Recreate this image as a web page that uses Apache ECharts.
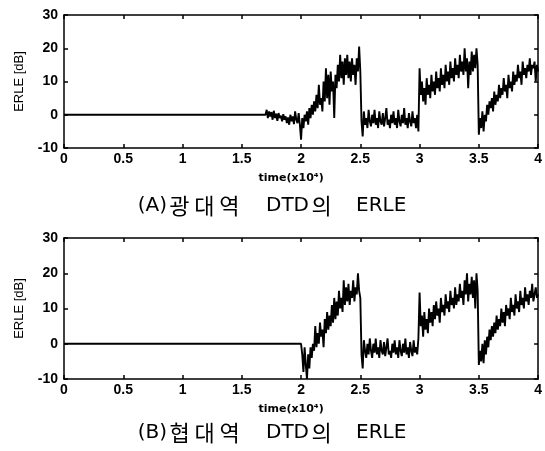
<!DOCTYPE html>
<html><head><meta charset="utf-8">
<script src="https://cdn.jsdelivr.net/npm/echarts@6/dist/echarts.min.js"></script>
<style>html,body{margin:0;padding:0;background:#fff}#c{width:545px;height:451px}</style>
</head><body><div id="c"></div>
<script>
// Tick labels
var xTicks = [0, 0.5, 1, 1.5, 2, 2.5, 3, 3.5, 4];
var yTicks = [-10, 0, 10, 20, 30];
var xName = 'time(x10\u2074)';
var yName = 'ERLE [dB]';
var captionA = '{l|(A)}{h|광}{h|대}{h|역}{s| }{l|DTD}{h|의}{t| }{l|ERLE}';
var captionB = '{l|(B)}{h|협}{h|대}{h|역}{s| }{l|DTD}{h|의}{t| }{l|ERLE}';
var step = 0.01;

// Chart A: flat part then sampled values from t=1.70
var flatA = [[0, 0], [1.70, 0]];
var startA = 1.70;
var valuesA = [
  0, 1.5, -1, 1, -0.5, 0.8, -1.5, 1.2, -1, 0.3,
  -1.8, 0.5, -1, -0.3, -2, 0.2, -1.5, -0.5, -2.5, -0.8,
  -3, 0, -2, -0.5, -2.8, 1, -1.5, -2.5, 0.5, -3,
  // 2.00
  -7.5, -1, -4, 0, -2, 1, -3, 2, -1, 3,
  0, 4, 1, 6, 2, 9, 3, 5, 1, 10,
  4, 14, 5, 12, 3, 13, 7, 10, -1, 12,
  8, 15, 10, 18, 11, 16, 9, 17, 12, 18,
  11, 16, 10, 17, 12, 15, 9, 17, 13, 20.5,
  // 2.50
  13, -2, -6.5, 1, -3, -1, -4, 1.5, -2, -3.5,
  0, -2.5, 1.5, -3, -1, -4, 1, -2, -3, 0.5,
  -3.5, -1, 2, -3, -1.5, -4, 0, -2.5, 1, -3,
  -1, -4, 1.5, -2, -3.5, 0, -2.5, 2, -3, -1,
  -4, 0.5, -2, -3.5, 1, -2.5, -1, -4, 0, -5,
  // 3.00
  14, 6, 10, 4, 8, 3, 11, 6, 9, 5,
  12, 7, 10, 6, 13, 8, 11, 7, 14, 9,
  12, 8, 15, 10, 13, 9, 16, 11, 14, 10,
  17, 12, 15, 11, 18, 13, 16, 12, 20, 13,
  17, 8, 16, 12, 19, 13, 18, 14, 20, 15,
  // 3.50
  -6, -1, -4, 1, -5, 0, -2, 3, 0, 4,
  2, 5, 1, 7, 3, 6, 4, 9, 5, 8,
  6, 11, 7, 9, 5, 12, 8, 10, 7, 13,
  9, 12, 10, 15, 11, 13, 9, 16, 12, 14,
  11, 15, 13, 17, 12, 15, 14, 16, 10, 15,
  13
];

// Chart B: flat part then sampled values from t=2.00
var flatB = [[0, 0], [2.00, 0]];
var startB = 2.00;
var valuesB = [
  0, -3, -8, -1, -6, -10, -3, -7, -1, -4,
  0, -2, 5, -1, 3, 0, 6, 2, 4, -1,
  7, 3, 9, 4, 8, 5, 11, 6, 13, 7,
  12, 8, 15, 10, 13, 9, 18, 11, 16, 12,
  17, 11, 15, 13, 18, 12, 16, 14, 20, 15,
  // 2.50
  13, -3, -7, 1, -2, -4, 0, -3, 1.5, -2,
  -4, 0, -2.5, 1.5, -3, -1, -4, 1, -2, -3,
  0.5, -3.5, -1, 1.5, -3, -2, -4, 0, -2.5, 1,
  -3, -1, -4, 1, -2, -3.5, 0, -2.5, 1.5, -3,
  -1, -4, 0.5, -2, -3.5, 1, -2.5, -1, -3, 1.5,
  // 3.00
  14.5, 5, 8, 2, 9, 4, 7, 3, 10, 6,
  9, 5, 11, 7, 12, 8, 10, 6, 13, 9,
  11, 8, 14, 10, 12, 9, 15, 11, 13, 10,
  16, 11, 14, 12, 17, 13, 15, 11, 18, 14,
  20, 12, 17, 14, 19, 13, 18, 10, 20, 15,
  // 3.50
  -6, -2, -5, 0, -5.5, 1, -3, 2, -1, 4,
  1, 5, 2, 6, 3, 8, 4, 7, 5, 10,
  6, 9, 5, 11, 8, 10, 7, 13, 9, 11,
  8, 14, 10, 12, 9, 15, 11, 13, 10, 16,
  12, 14, 11, 15, 13, 17, 12, 14, 16, 13,
  14
];

function pairs(flat, start, vals) {
  var out = flat.slice();
  for (var i = 0; i < vals.length; i++) {
    out.push([+(start + i * step).toFixed(2), vals[i]]);
  }
  return out;
}

var chart = echarts.init(document.getElementById('c'), null, {renderer: 'canvas'});
var lab = {color: '#000', fontFamily: 'Liberation Sans, Arial', fontWeight: 'bold', fontSize: 14};
var axLine = {show: true, onZero: false, lineStyle: {color: '#000', width: 1.5}};
var tick = {show: true, inside: true, length: 4, lineStyle: {color: '#000', width: 1.5}};

function xAx(gi, pos, showLab) {
  return {
    type: 'value', gridIndex: gi, position: pos, min: 0, max: 4, interval: 0.5,
    axisLine: axLine, axisTick: tick, splitLine: {show: false},
    axisLabel: showLab ? Object.assign({margin: 4, formatter: function (v) { return String(v); }}, lab) : {show: false},
    name: showLab ? xName : '', nameLocation: 'middle', nameGap: 25,
    nameTextStyle: {color: '#000', fontFamily: 'DejaVu Sans', fontWeight: 'bold', fontSize: 11, padding: [0, 20, 0, 0]}
  };
}
function yAx(gi, pos, showLab) {
  return {
    type: 'value', gridIndex: gi, position: pos, min: -10, max: 30, interval: 10,
    axisLine: axLine, axisTick: tick, splitLine: {show: false},
    axisLabel: showLab ? Object.assign({margin: 6}, lab) : {show: false},
    name: showLab ? yName : '', nameLocation: 'middle', nameGap: 38, nameRotate: 90,
    nameTextStyle: {color: '#000', fontFamily: 'Liberation Sans, Arial', fontWeight: 'normal', fontSize: 13}
  };
}

var capRich = {
  l: {fontFamily: 'DejaVu Sans', fontSize: 20, color: '#000', lineHeight: 24},
  h: {fontFamily: 'Noto Sans CJK KR', fontSize: 22, color: '#000', width: 25, align: 'center', lineHeight: 24},
  s: {fontFamily: 'DejaVu Sans', fontSize: 20, width: 24, lineHeight: 24},
  t: {fontFamily: 'DejaVu Sans', fontSize: 20, width: 22, lineHeight: 24}
};

chart.setOption({
  animation: false,
  backgroundColor: '#fff',
  title: [
    {text: captionA, left: 272, top: 194, textAlign: 'center', padding: 0,
     textStyle: {color: '#000', fontWeight: 'normal', fontSize: 20, rich: capRich}},
    {text: captionB, left: 272, top: 421, textAlign: 'center', padding: 0,
     textStyle: {color: '#000', fontWeight: 'normal', fontSize: 20, rich: capRich}}
  ],
  grid: [
    {left: 64, top: 15, width: 475, height: 133},
    {left: 64, top: 238, width: 475, height: 141}
  ],
  xAxis: [xAx(0, 'bottom', true), xAx(0, 'top', false), xAx(1, 'bottom', true), xAx(1, 'top', false)],
  yAxis: [yAx(0, 'left', true), yAx(0, 'right', false), yAx(1, 'left', true), yAx(1, 'right', false)],
  series: [
    {type: 'line', xAxisIndex: 0, yAxisIndex: 0, data: pairs(flatA, startA, valuesA),
     showSymbol: false, symbol: 'none', lineStyle: {color: '#000', width: 1.9}},
    {type: 'line', xAxisIndex: 2, yAxisIndex: 2, data: pairs(flatB, startB, valuesB),
     showSymbol: false, symbol: 'none', lineStyle: {color: '#000', width: 1.9}}
  ]
});
</script></body></html>
